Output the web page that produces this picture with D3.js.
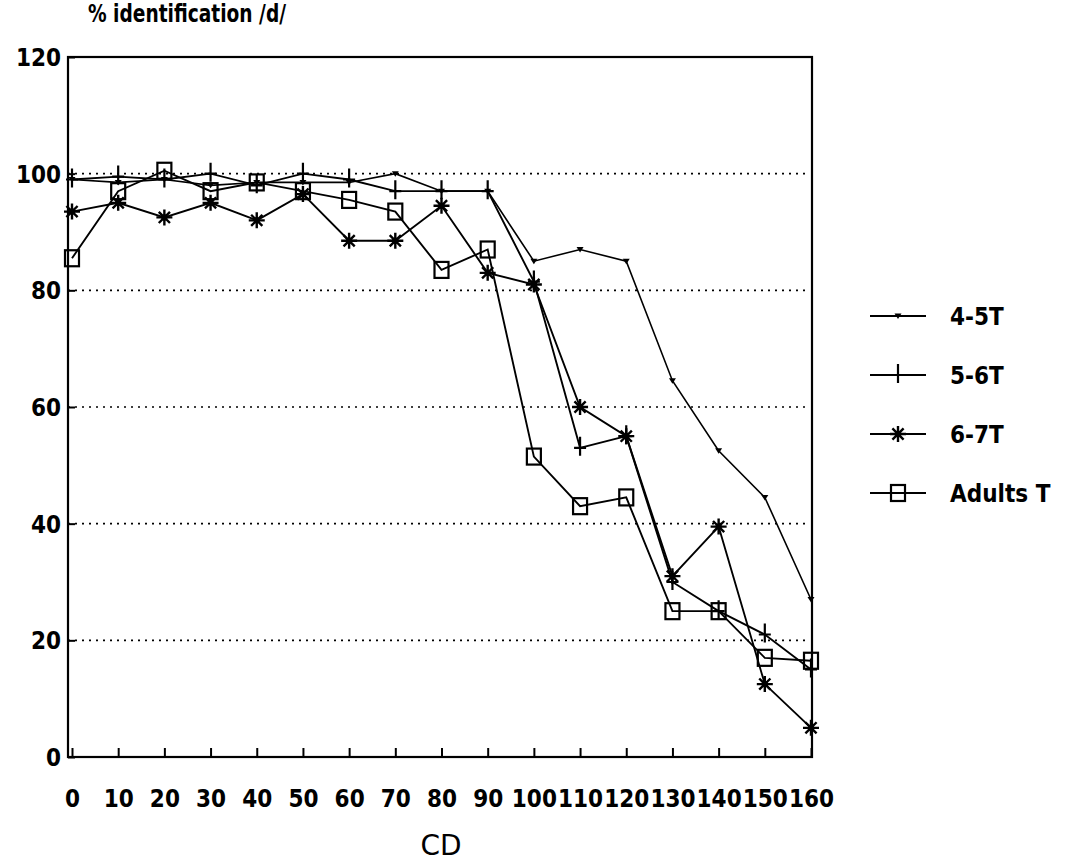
<!DOCTYPE html>
<html>
<head>
<meta charset="utf-8">
<script src="https://cdn.jsdelivr.net/npm/d3@7"></script>
<style>
  html, body { margin: 0; padding: 0; background: #fff; }
  svg { display: block; }
  text { font-family: "Liberation Sans Narrow", "DejaVu Sans Condensed", "Liberation Sans", sans-serif; font-weight: bold; fill: #000; }
</style>
</head>
<body>
<svg id="chart" width="1079" height="865"></svg>
<script>
// Consonant-duration steps (CD) and identification scores per age group
const cd = [0, 10, 20, 30, 40, 50, 60, 70, 80, 90, 100, 110, 120, 130, 140, 150, 160];
const group45 = [99, 98.5, 99, 98, 98.5, 98.5, 98.5, 100, 97, 97, 85, 87, 85, 64.5, 52.5, 44.5, 27];
const group56 = [99, 99.5, 99, 100, 98, 100, 99, 97, 97, 97, 81.5, 53, 55, 30, 25, 21, 15];
const group67 = [93.5, 95, 92.5, 95, 92, 96.5, 88.5, 88.5, 94.5, 83, 81, 60, 55, 31, 39.5, 12.5, 5];
const adults  = [85.5, 97, 100.5, 97, 98.5, 97, 95.5, 93.5, 83.5, 87, 51.5, 43, 44.5, 25, 25, 17, 16.5];

const seriesNames = ["4-5T", "5-6T", "6-7T", "Adults T"];
const seriesMarks = ["tri", "plus", "star", "square"];
const yTicks = [0, 20, 40, 60, 80, 100, 120];
const gridValues = [20, 40, 60, 80, 100];

const svg = d3.select("#chart");
const frameL = 68, frameR = 812, frameT = 57, frameB = 757;

const x = d3.scaleLinear().domain([0, 160]).range([72, 811]);
const y = d3.scaleLinear().domain([0, 120]).range([frameB, frameT]);

// dotted horizontal grid
svg.append("g").selectAll("line").data(gridValues).join("line")
  .attr("x1", frameL).attr("x2", frameR - 2)
  .attr("y1", d => y(d)).attr("y2", d => y(d))
  .attr("stroke", "#000").attr("stroke-width", 1.6)
  .attr("stroke-dasharray", "2,5");

// frame
svg.append("rect")
  .attr("x", frameL).attr("y", frameT)
  .attr("width", frameR - frameL).attr("height", frameB - frameT)
  .attr("fill", "none").attr("stroke", "#000").attr("stroke-width", 2.2);

// y axis
const yAxis = svg.append("g").attr("transform", `translate(${frameL},0)`)
  .call(d3.axisLeft(y).tickValues(yTicks).tickSize(-7).tickPadding(7).tickFormat(d3.format("d")));
yAxis.select(".domain").remove();
yAxis.selectAll("line").attr("stroke", "#000").attr("stroke-width", 2);
yAxis.selectAll("text").style("font-size", "24px").attr("dy", "0.36em");

// x axis
const xAxis = svg.append("g").attr("transform", `translate(0,${frameB})`)
  .call(d3.axisBottom(x).tickValues(cd).tickSize(-9).tickPadding(33).tickFormat(d3.format("d")));
xAxis.select(".domain").remove();
xAxis.selectAll("line").attr("stroke", "#000").attr("stroke-width", 2);
xAxis.selectAll("text").style("font-size", "24px");

// axis titles
svg.append("text").attr("x", 88).attr("y", 22)
  .style("font-size", "25px").attr("textLength", 198).attr("lengthAdjust", "spacingAndGlyphs")
  .text("% identification /d/");
svg.append("text").attr("x", 441).attr("y", 855).attr("text-anchor", "middle")
  .style("font-size", "28px").style("font-weight", "normal")
  .style("font-family", "'DejaVu Sans', sans-serif")
  .text("CD");

// marker shapes
function drawMarker(g, kind) {
  if (kind === "tri") {
    g.append("path").attr("d", "M-3.5,-2.5 L3.5,-2.5 L0,3 Z").attr("fill", "#000");
  } else if (kind === "plus") {
    g.append("path").attr("d", "M0,-11 V8 M-6,0 H6")
      .attr("stroke", "#000").attr("stroke-width", 2.2).attr("fill", "none");
  } else if (kind === "star") {
    const r = 8;
    g.append("path").attr("d",
      `M${-r},0 H${r} M0,${-r} V${r} M${-r*0.7},${-r*0.7} L${r*0.7},${r*0.7} M${-r*0.7},${r*0.7} L${r*0.7},${-r*0.7}`)
      .attr("stroke", "#000").attr("stroke-width", 2.4).attr("fill", "none");
    g.append("circle").attr("r", 3).attr("fill", "#000");
  } else if (kind === "square") {
    g.append("rect").attr("x", -7).attr("y", -8).attr("width", 14).attr("height", 16)
      .attr("fill", "none").attr("stroke", "#000").attr("stroke-width", 2.2);
  }
}

const allSeries = [group45, group56, group67, adults];
const line = d3.line().x((d, i) => x(cd[i])).y(d => y(d));

allSeries.forEach((vals, si) => {
  const g = svg.append("g");
  g.append("path").datum(vals).attr("d", line)
    .attr("fill", "none").attr("stroke", "#000")
    .attr("stroke-width", si === 0 ? 1.6 : 1.9);
  g.selectAll("g.m").data(vals).join("g").attr("class", "m")
    .attr("transform", (d, i) => `translate(${x(cd[i])},${y(d)})`)
    .each(function () { drawMarker(d3.select(this), seriesMarks[si]); });
});

// legend
const legendY = [316, 375, 434, 493];
const legend = svg.append("g");
seriesNames.forEach((name, i) => {
  const ly = legendY[i];
  legend.append("line").attr("x1", 870).attr("x2", 926).attr("y1", ly).attr("y2", ly)
    .attr("stroke", "#000").attr("stroke-width", 2);
  const m = legend.append("g").attr("transform", `translate(898,${ly})`);
  drawMarker(m, seriesMarks[i]);
  legend.append("text").attr("x", 950).attr("y", ly).attr("dy", "0.36em")
    .style("font-size", "24px").text(name);
});
</script>
</body>
</html>
